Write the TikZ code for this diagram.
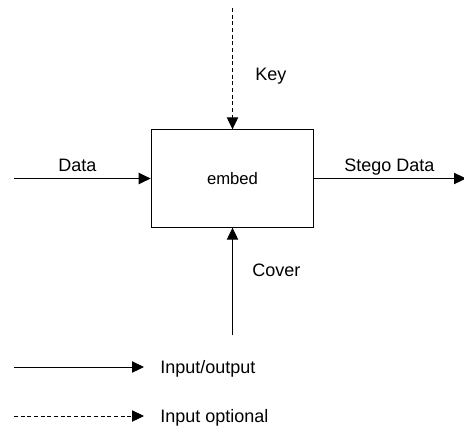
\documentclass[tikz,border=0pt]{standalone}
\usepackage{fontspec}
\setmainfont{Liberation Sans}
\usetikzlibrary{arrows.meta,positioning}

\tikzset{
  flow/.style={line width=0.75pt,-{Triangle[length=9pt,width=8.5pt]}},
  optional/.style={flow,dash pattern=on 3pt off 2pt},
  lbl/.style={font=\fontsize{13.5}{16}\selectfont,inner sep=0pt,anchor=base west},
  process/.style={draw,line width=0.75pt,minimum width=122pt,minimum height=73pt,
    font=\fontsize{12.5}{15}\selectfont},
}

\begin{document}
\begin{tikzpicture}[x=0.75pt,y=-0.75pt]
  \useasboundingbox (0,0) rectangle (464,426);
  %process
  \node[process] (embed) at (232.5,178.5) {embed};
  %free ends
  \coordinate (keyin) at (232.5,8);
  \coordinate (datain) at (14,178.5);
  \coordinate (stegoout) at (466,178.5);
  \coordinate (coverin) at (232.5,335);
  %connectors
  \draw[optional] (keyin) -- (embed.north);
  \draw[flow] (datain) -- (embed.west);
  \draw[flow] (embed.east) -- (stegoout);
  \draw[flow] (coverin) -- (embed.south);
  %labels
  \node[lbl] (key) at (255,80) {Key};
  \node[lbl] (data) at (58,171) {Data};
  \node[lbl] (stego) at (344,171) {Stego Data};
  \node[lbl] (cover) at (252,276.5) {Cover};
  %legend
  \coordinate (solidA) at (14,367);
  \coordinate (solidB) at (144,367);
  \coordinate (dashA) at (14,416);
  \coordinate (dashB) at (144,416);
  \draw[flow] (solidA) -- (solidB);
  \draw[optional] (dashA) -- (dashB);
  \node[lbl] (io) at (160,373) {Input/output};
  \node[lbl] (opt) at (160,422) {Input optional};
\end{tikzpicture}
\end{document}
